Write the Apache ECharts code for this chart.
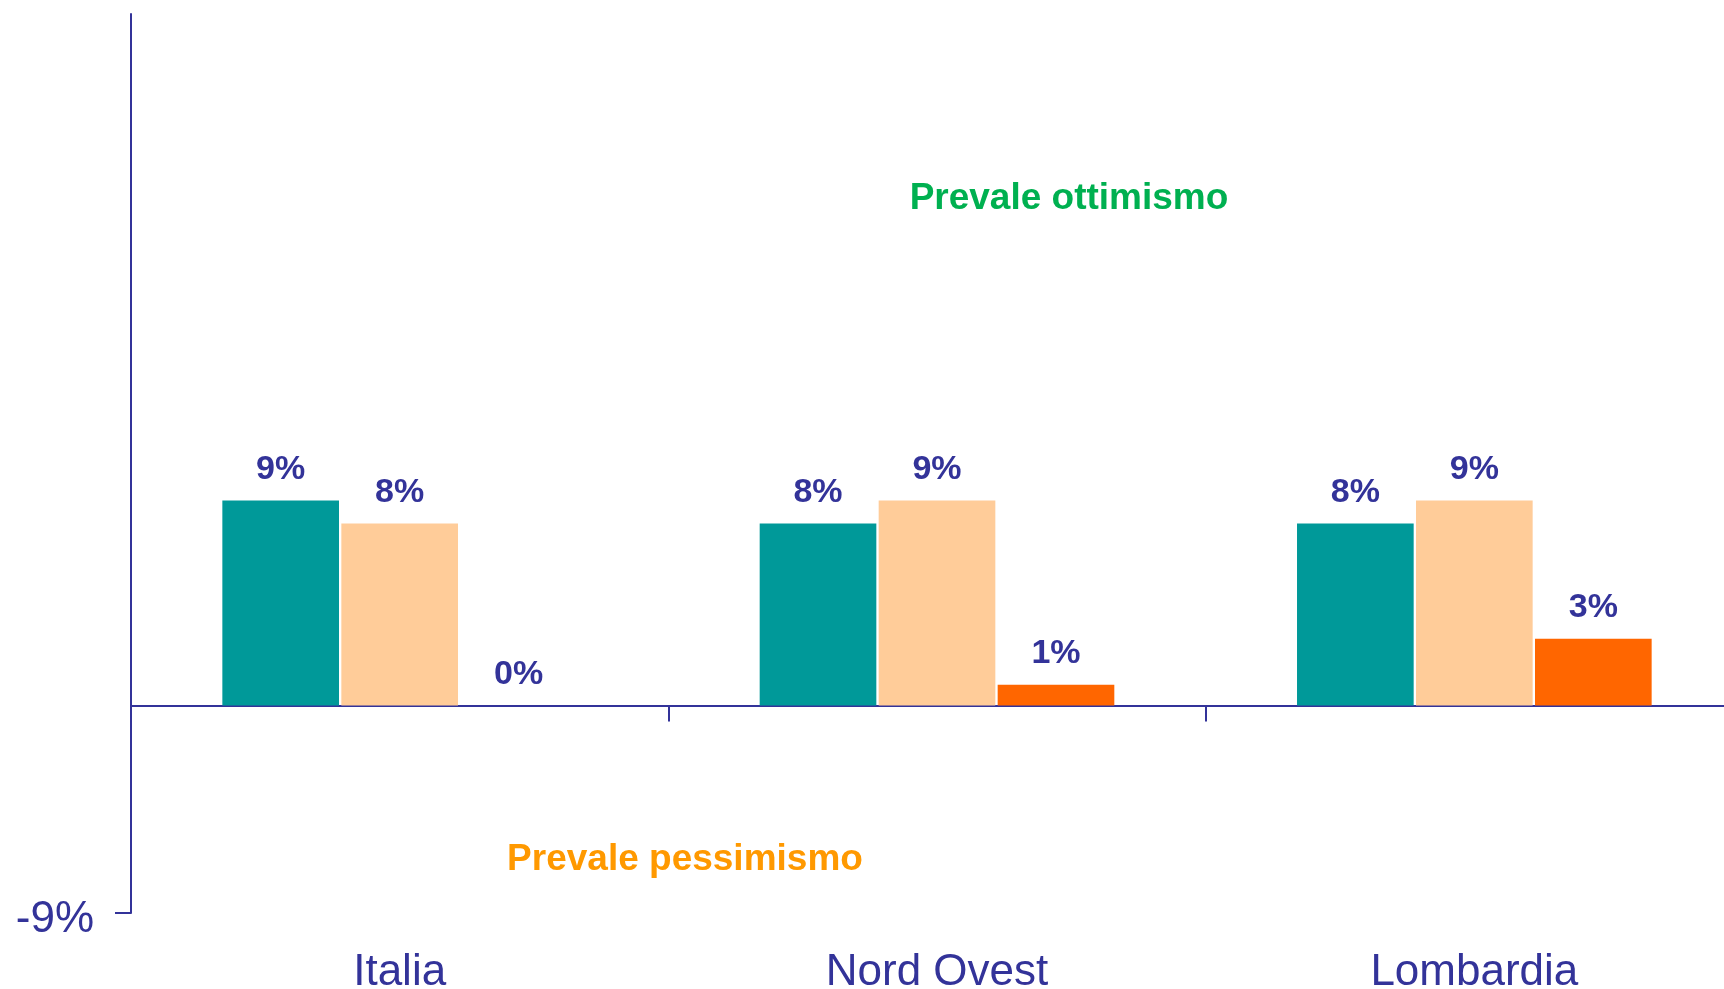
<!DOCTYPE html>
<html>
	<head>
		<meta charset="utf-8" />
		<title>Prevale ottimismo</title>
		<script src="https://cdn.jsdelivr.net/npm/echarts@6/dist/echarts.min.js"></script>
		<style>
			html, body { margin: 0; padding: 0; background: #fff; }
			#main { width: 1724px; height: 989px; }
		</style>
	</head>
	<body>
		<div id="main"></div>
		<script>
			// dati
			var categorie = ["Italia", "Nord Ovest", "Lombardia"];
			var serie1 = [8.9, 7.9, 7.9];
			var serie2 = [7.9, 8.9, 8.9];
			var serie3 = [0, 0.9, 2.9];
			var yMin = -9;
			var yMax = 30;
			var yTicks = [-9];

			var blu = "#333399";
			var font = "Liberation Sans, Arial, sans-serif";

			function etichetta() {
				return {
					show: true,
					position: "top",
					distance: 14,
					color: blu,
					fontFamily: font,
					fontWeight: "bold",
					fontSize: 34,
					formatter: function(p) { return Math.round(p.value) + "%"; }
				};
			}

			var myChart = echarts.init(document.getElementById("main"));
			myChart.setOption({
				animation: false,
				grid: { left: 131, right: -19, top: 14, bottom: 76, containLabel: false, outerBoundsMode: "none" },
				xAxis: [
					{
						// asse sullo zero
						type: "category",
						data: categorie,
						axisLine: { onZero: true, lineStyle: { color: blu, width: 2 } },
						axisTick: { show: true, length: 16, lineStyle: { color: blu, width: 2 } },
						axisLabel: { show: false }
					},
					{
						// etichette in basso
						type: "category",
						data: categorie,
						position: "bottom",
						axisLine: { show: false, onZero: false },
						axisTick: { show: false },
						axisLabel: { color: blu, fontFamily: font, fontSize: 44, margin: 38 }
					}
				],
				yAxis: {
					type: "value",
					min: yMin,
					max: yMax,
					splitLine: { show: false },
					axisLine: { show: true, lineStyle: { color: blu, width: 2 } },
					axisTick: { show: true, length: 16, customValues: yTicks, lineStyle: { color: blu, width: 2 } },
					axisLabel: {
						customValues: yTicks,
						margin: 37,
						formatter: function(v) { return "{a|" + v + "%}"; },
						rich: {
							a: { color: blu, fontFamily: font, fontSize: 44, padding: [14, 0, 0, 0] }
						}
					}
				},
				series: [
					{ type: "bar", data: serie1, itemStyle: { color: "#009999" }, barGap: "2%", barCategoryGap: "34%", label: etichetta() },
					{ type: "bar", data: serie2, itemStyle: { color: "#FFCC99" }, label: etichetta() },
					{ type: "bar", data: serie3, itemStyle: { color: "#FF6600" }, label: etichetta() }
				],
				graphic: [
					{ type: "text", x: 1069, y: 199, style: { text: "Prevale ottimismo", fill: "#00B050", font: "bold 37px " + font, align: "center", verticalAlign: "middle" } },
					{ type: "text", x: 685, y: 860, style: { text: "Prevale pessimismo", fill: "#FF9900", font: "bold 37px " + font, align: "center", verticalAlign: "middle" } }
				]
			});
		</script>
	</body>
</html>
